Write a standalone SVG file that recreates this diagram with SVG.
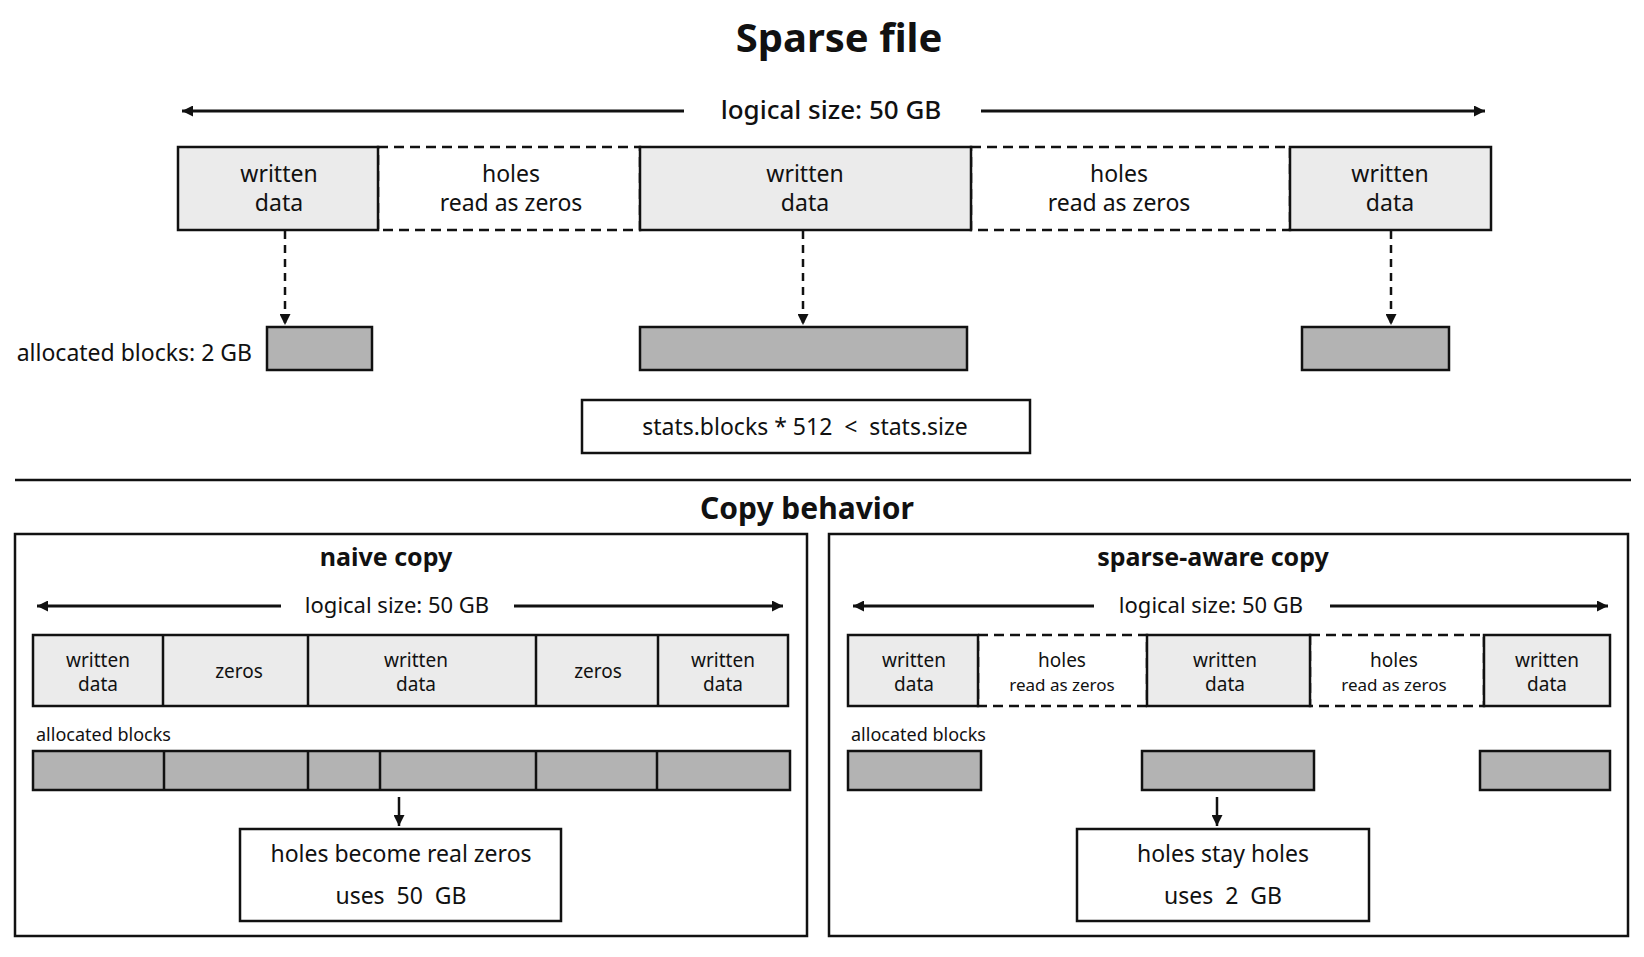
<svg xmlns="http://www.w3.org/2000/svg" width="1644" height="957" viewBox="0 0 1644 957">
<defs>
<marker id="ah" viewBox="0 0 10 10" refX="10" refY="5" markerWidth="11" markerHeight="11" markerUnits="userSpaceOnUse" orient="auto-start-reverse"><path d="M0,0 L10,5 L0,10 z" fill="#111"/></marker>
<style>
text{font-family:"Noto Sans","Liberation Sans",sans-serif;fill:#111;text-anchor:middle}
.t{font-size:40px;font-weight:bold}
.h{font-size:30px;font-weight:bold}
.s{font-size:26px;font-weight:500}
.m{font-size:23px}
.sm{font-size:19px}
.xs{font-size:18px}
.w{fill:#ebebeb;stroke:#111;stroke-width:2.5}
.a{fill:#b3b3b3;stroke:#111;stroke-width:2.5}
.b{fill:#fff;stroke:#111;stroke-width:2.5}
.d{fill:none;stroke:#111;stroke-width:2.5;stroke-dasharray:10 6}
.l{stroke:#111;stroke-width:2.5;fill:none}
.k{stroke:#111;stroke-width:3;fill:none}
</style>
</defs>
<rect width="1644" height="957" fill="#fff"/>
<text class="t" x="839" y="52">Sparse file</text>
<text class="s" x="831" y="119">logical size: 50 GB</text>
<g id="top-row">
<rect class="d" x="378" y="147" width="262" height="83"/>
<rect class="d" x="971" y="147" width="319" height="83"/>
<rect class="w" x="178" y="147" width="200" height="83"/>
<rect class="w" x="640" y="147" width="331" height="83"/>
<rect class="w" x="1290" y="147" width="201" height="83"/>
<text class="m"><tspan x="279" y="182">written</tspan><tspan x="279" y="211">data</tspan></text>
<text class="m"><tspan x="511" y="182">holes</tspan><tspan x="511" y="211">read as zeros</tspan></text>
<text class="m"><tspan x="805" y="182">written</tspan><tspan x="805" y="211">data</tspan></text>
<text class="m"><tspan x="1119" y="182">holes</tspan><tspan x="1119" y="211">read as zeros</tspan></text>
<text class="m"><tspan x="1390" y="182">written</tspan><tspan x="1390" y="211">data</tspan></text>
</g>
<g id="top-alloc">
<text class="m" x="252" y="361" style="text-anchor:end">allocated blocks: 2 GB</text>
<rect class="a" x="267" y="327" width="105" height="43"/>
<rect class="a" x="640" y="327" width="327" height="43"/>
<rect class="a" x="1302" y="327" width="147" height="43"/>
</g>
<g id="stats">
<rect class="b" x="582" y="400" width="448" height="53"/>
<text class="m" x="805" y="435" xml:space="preserve">stats.blocks * 512  &lt;  stats.size</text>
</g>
<line x1="15" y1="480" x2="1631" y2="480" stroke="#111" stroke-width="2.5"/>
<text class="h" x="807" y="519">Copy behavior</text>
<g id="naive">
<rect class="b" x="15" y="534" width="792" height="402"/>
<text class="m" x="386" y="566" style="font-weight:bold;font-size:25px">naive copy</text>
<text class="sm" x="397" y="613" style="font-size:22px">logical size: 50 GB</text>
<rect class="w" x="33" y="635" width="755" height="71"/>
<path class="l" d="M163,635V706M308,635V706M536,635V706M658,635V706"/>
<text class="sm"><tspan x="98" y="667">written</tspan><tspan x="98" y="691">data</tspan></text>
<text class="sm" x="239" y="678">zeros</text>
<text class="sm"><tspan x="416" y="667">written</tspan><tspan x="416" y="691">data</tspan></text>
<text class="sm" x="598" y="678">zeros</text>
<text class="sm"><tspan x="723" y="667">written</tspan><tspan x="723" y="691">data</tspan></text>
<text class="xs" x="36" y="741" style="text-anchor:start">allocated blocks</text>
<rect class="a" x="33" y="751" width="757" height="39"/>
<path class="l" d="M164,751V790M308,751V790M380,751V790M536,751V790M657,751V790"/>
<rect class="b" x="240" y="829" width="321" height="92"/>
<text class="m" x="401" y="862">holes become real zeros</text>
<text class="m" x="401" y="904" xml:space="preserve">uses  50  GB</text>
</g>
<g id="sparse-aware">
<rect class="b" x="829" y="534" width="799" height="402"/>
<text class="m" x="1213" y="566" style="font-weight:bold;font-size:25px">sparse-aware copy</text>
<text class="sm" x="1211" y="613" style="font-size:22px">logical size: 50 GB</text>
<rect class="d" x="978" y="635" width="169" height="71"/>
<rect class="d" x="1310" y="635" width="174" height="71"/>
<rect class="w" x="848" y="635" width="130" height="71"/>
<rect class="w" x="1147" y="635" width="163" height="71"/>
<rect class="w" x="1484" y="635" width="126" height="71"/>
<text class="sm"><tspan x="914" y="667">written</tspan><tspan x="914" y="691">data</tspan></text>
<text class="sm"><tspan x="1062" y="667">holes</tspan><tspan x="1062" y="691" style="font-size:17px">read as zeros</tspan></text>
<text class="sm"><tspan x="1225" y="667">written</tspan><tspan x="1225" y="691">data</tspan></text>
<text class="sm"><tspan x="1394" y="667">holes</tspan><tspan x="1394" y="691" style="font-size:17px">read as zeros</tspan></text>
<text class="sm"><tspan x="1547" y="667">written</tspan><tspan x="1547" y="691">data</tspan></text>
<text class="xs" x="851" y="741" style="text-anchor:start">allocated blocks</text>
<rect class="a" x="848" y="751" width="133" height="39"/>
<rect class="a" x="1142" y="751" width="172" height="39"/>
<rect class="a" x="1480" y="751" width="130" height="39"/>
<rect class="b" x="1077" y="829" width="292" height="92"/>
<text class="m" x="1223" y="862">holes stay holes</text>
<text class="m" x="1223" y="904" xml:space="preserve">uses  2  GB</text>
</g>
<g id="connectors">
<line class="k" x1="182" y1="111" x2="684" y2="111" marker-start="url(#ah)"/>
<line class="k" x1="981" y1="111" x2="1485" y2="111" marker-end="url(#ah)"/>
<line class="l" x1="285" y1="231" x2="285" y2="325" stroke-dasharray="8 6" marker-end="url(#ah)"/>
<line class="l" x1="803" y1="231" x2="803" y2="325" stroke-dasharray="8 6" marker-end="url(#ah)"/>
<line class="l" x1="1391" y1="231" x2="1391" y2="325" stroke-dasharray="8 6" marker-end="url(#ah)"/>
<line class="k" x1="37" y1="606" x2="281" y2="606" marker-start="url(#ah)"/>
<line class="k" x1="514" y1="606" x2="783" y2="606" marker-end="url(#ah)"/>
<line class="k" x1="853" y1="606" x2="1094" y2="606" marker-start="url(#ah)"/>
<line class="k" x1="1330" y1="606" x2="1608" y2="606" marker-end="url(#ah)"/>
<line class="l" x1="399" y1="797" x2="399" y2="826" marker-end="url(#ah)"/>
<line class="l" x1="1217" y1="797" x2="1217" y2="826" marker-end="url(#ah)"/>
</g>
</svg>
